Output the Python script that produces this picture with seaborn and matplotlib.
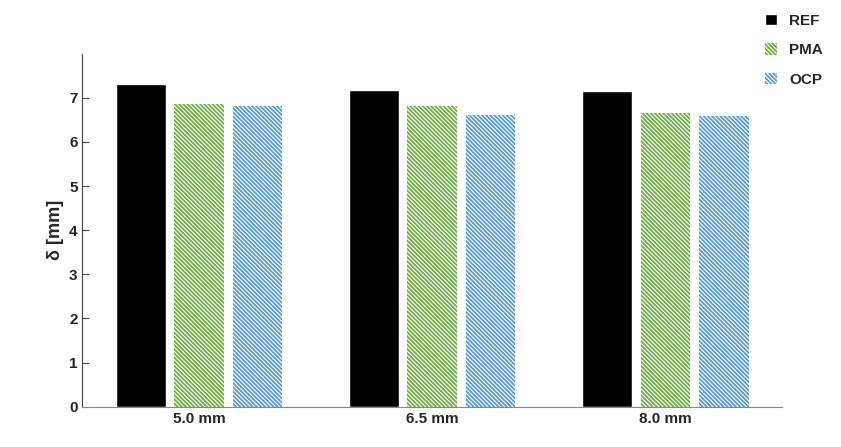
import matplotlib
matplotlib.use("Agg")
import matplotlib.pyplot as plt
import seaborn as sns
import pandas as pd
from matplotlib.patches import Patch

groups = ['5.0 mm', '6.5 mm', '8.0 mm']
series = ['REF', 'PMA', 'OCP']
ref_vals = [7.31, 7.18, 7.16]
pma_vals = [6.87, 6.82, 6.66]
ocp_vals = [6.82, 6.62, 6.59]

df = pd.DataFrame({
    'group': groups * 3,
    'series': [s for s in series for _ in groups],
    'value': ref_vals + pma_vals + ocp_vals,
})

sns.set_style('white')
plt.rcParams['font.family'] = ['Liberation Sans', 'DejaVu Sans']
plt.rcParams['hatch.linewidth'] = 1.3

fig, ax = plt.subplots(figsize=(8.41, 4.47), dpi=100)
sns.barplot(data=df, x='group', y='value', hue='series', ax=ax,
            palette=['black', 'white', 'white'], width=0.75, gap=0.15, legend=False)

edge = {'REF': 'black', 'PMA': '#70ad47', 'OCP': '#5b9bd5'}
hatch = '\\\\\\\\\\\\\\\\'
for cont, s in zip(ax.containers, series):
    for bar in cont:
        if s != 'REF':
            bar.set_hatch(hatch)
            bar.set_edgecolor(edge[s])
            bar.set_linewidth(0)

handles = [Patch(facecolor='black', label='REF'),
           Patch(facecolor='white', edgecolor='#70ad47', hatch=hatch, linewidth=0, label='PMA'),
           Patch(facecolor='white', edgecolor='#5b9bd5', hatch=hatch, linewidth=0, label='OCP')]
fig.legend(handles=handles, loc='upper right', bbox_to_anchor=(0.995, 1.0), frameon=False,
           handlelength=0.8, handleheight=0.8, labelspacing=1.0,
           prop={'weight': 'bold', 'size': 11})

ax.set_ylim(0, 8)
ax.set_yticks(range(8))
ax.set_xlabel('')
ax.set_ylabel('δ [mm]', fontsize=13, fontweight='bold')
ax.tick_params(labelsize=11)
ax.tick_params(axis='y', direction='in', length=5, color='#444444', left=True)
ax.tick_params(axis='x', length=0)
for t in ax.get_xticklabels() + ax.get_yticklabels():
    t.set_fontweight('bold')
for sp in ['top', 'right']:
    ax.spines[sp].set_visible(False)
ax.spines['left'].set_color('#444444')
ax.spines['bottom'].set_color('#888888')

fig.subplots_adjust(left=0.098, right=0.93, bottom=0.09, top=0.88)
fig.savefig('out.png')
